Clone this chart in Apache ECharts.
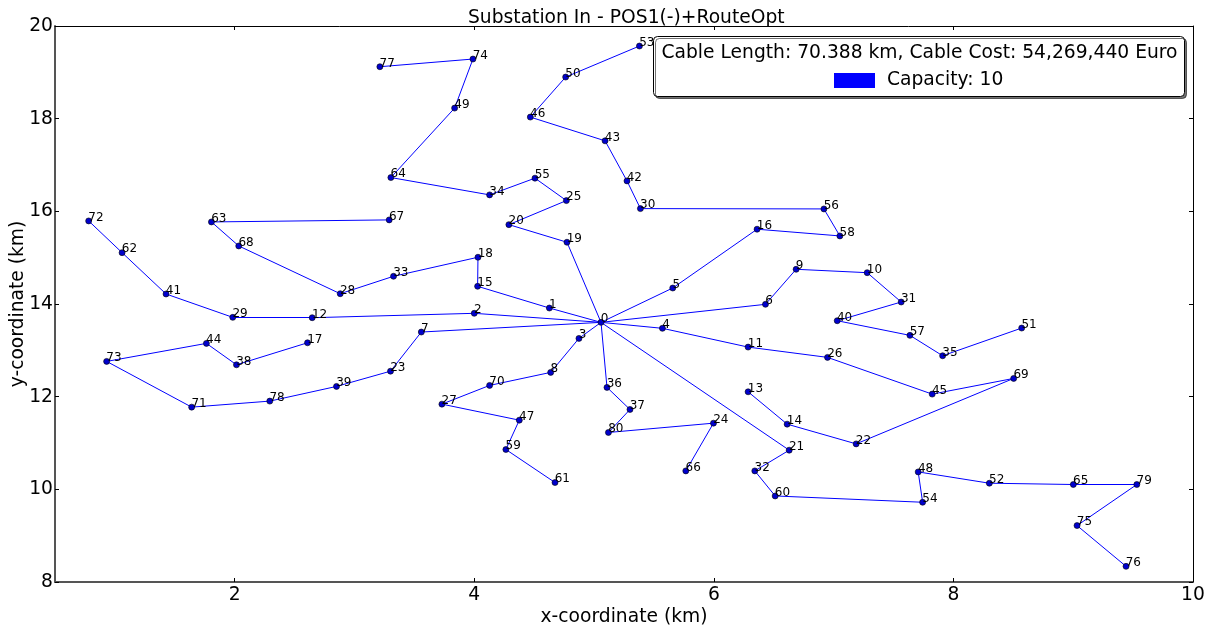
<!DOCTYPE html>
<html>
<head>
<meta charset="utf-8">
<script src="https://cdn.jsdelivr.net/npm/echarts@6/dist/echarts.min.js"></script>
<style>
  html, body { margin: 0; padding: 0; background: #fff; }
  #chart { width: 1214px; height: 625px; }
</style>
</head>
<body>
<div id="chart"></div>
<script>
// Turbine / substation positions (km), indexed by node id (0 = substation)
const nodeX = [
  5.058, 4.627, 4.000, 4.874, 5.571, 5.657, 6.431, 3.558, 4.638, 6.687,
  7.280, 6.286, 2.647, 6.286, 6.612, 4.028, 6.361, 2.608, 4.031, 4.774,
  4.289, 6.629, 7.188, 3.301, 5.997, 4.769, 6.949, 3.730, 2.881, 1.984,
  5.387, 7.564, 6.342, 3.326, 4.128, 7.910, 5.108, 5.300, 2.015, 2.850,
  7.030, 1.427, 5.275, 5.092, 1.764, 7.823, 4.468, 4.376, 7.706, 3.836,
  4.763, 8.570, 8.300, 5.379, 7.743, 4.507, 6.919, 7.637, 7.052, 4.264,
  6.512, 4.674, 1.060, 1.806, 3.304, 9.001, 5.766, 3.290, 2.034, 8.503,
  4.128, 1.641, 0.781, 0.931, 3.989, 9.032, 9.441, 3.212, 2.293, 9.531,
  5.120
];
const nodeY = [
  13.604, 13.913, 13.799, 13.258, 13.475, 14.345, 13.993, 13.395, 12.524, 14.749,
  14.676, 13.070, 13.704, 12.105, 11.407, 14.382, 15.614, 13.163, 15.009, 15.333,
  15.713, 10.845, 10.981, 12.550, 11.428, 16.232, 12.848, 11.839, 14.222, 13.712,
  16.059, 14.043, 10.398, 14.598, 16.355, 12.883, 12.200, 11.724, 12.688, 12.221,
  13.639, 14.216, 16.657, 17.522, 13.150, 12.055, 18.034, 11.493, 10.376, 18.228,
  18.898, 13.481, 10.132, 19.568, 9.721, 16.716, 16.052, 13.323, 15.469, 10.860,
  9.857, 10.147, 15.108, 15.771, 16.729, 10.104, 10.398, 15.815, 15.253, 12.394,
  12.243, 11.774, 15.793, 12.761, 19.287, 9.218, 8.338, 19.121, 11.904, 10.104,
  11.227
];
// Cable routes as [from, to] node ids
const cableEdges = [
  [77,74],[74,49],[49,64],[64,34],[34,55],[55,25],[25,20],[20,19],[19,0],
  [53,50],[50,46],[46,43],[43,42],[42,30],[30,56],[56,58],[58,16],[16,5],[5,0],
  [63,67],[63,68],[68,28],[28,33],[33,18],[18,15],[15,1],[1,0],
  [72,62],[62,41],[41,29],[29,12],[12,2],[2,0],
  [17,38],[38,44],[44,73],[73,71],[71,78],[78,39],[39,23],[23,7],[7,0],
  [9,6],[6,0],[9,10],[10,31],[31,40],[40,57],[57,35],[35,51],
  [0,4],[4,11],[11,26],[26,45],[45,69],[69,22],[22,14],[14,13],
  [0,3],[3,8],[8,70],[70,27],[27,47],[47,59],[59,61],
  [0,36],[36,37],[37,80],[80,24],[24,66],
  [0,21],[21,32],[32,60],[60,54],[54,48],[48,52],[52,65],[65,79],[79,75],[75,76]
];
const xTicks = [2, 4, 6, 8, 10];
const yTicks = [8, 10, 12, 14, 16, 18, 20];
const titleText = 'Substation In - POS1(-)+RouteOpt';
const summaryText = 'Cable Length: 70.388 km, Cable Cost: 54,269,440 Euro';
const capacityName = 'Capacity: 10';

const FONT = 'DejaVu Sans';
const BIG = 18.7;
const chart = echarts.init(document.getElementById('chart'), null, { renderer: 'canvas' });

const nodes = nodeX.map((x, i) => ({ name: String(i), value: [x, nodeY[i]] }));
const links = cableEdges.map(([a, b]) => ({ coords: [[nodeX[a], nodeY[a]], [nodeX[b], nodeY[b]]] }));

const axisBase = {
  type: 'value',
  splitLine: { show: false },
  axisLine: { onZero: false, lineStyle: { color: '#000', width: 1 } },
  axisTick: { inside: true, length: 4, lineStyle: { color: '#000' } }
};

chart.setOption({
  animation: false,
  textStyle: { fontFamily: FONT },
  title: {
    text: titleText,
    left: 468, top: 9, padding: 0,
    textStyle: { fontFamily: FONT, fontSize: BIG, fontWeight: 'normal', color: '#000' }
  },
  grid: { left: 55, right: 21, top: 26, bottom: 43, containLabel: false, outerBoundsMode: 'none' },
  xAxis: [
    Object.assign({}, axisBase, {
      position: 'bottom', min: 0.5, max: 10,
      axisLine: { onZero: false, lineStyle: { color: '#555', width: 2 } },
      axisTick: { inside: true, length: 4, customValues: xTicks, lineStyle: { color: '#000' } },
      axisLabel: { customValues: xTicks, fontFamily: FONT, fontSize: BIG, color: '#000', margin: 4 },
      name: 'x-coordinate (km)', nameLocation: 'middle', nameGap: 26, nameMoveOverlap: false,
      nameTextStyle: { fontFamily: FONT, fontSize: BIG, color: '#000' }
    }),
    Object.assign({}, axisBase, {
      position: 'top', min: 0.5, max: 10,
      axisTick: { inside: true, length: 4, customValues: xTicks, lineStyle: { color: '#000' } },
      axisLabel: { show: false }
    })
  ],
  yAxis: [
    Object.assign({}, axisBase, {
      position: 'left', min: 8, max: 20, interval: 2,
      axisLine: { onZero: false, lineStyle: { color: '#555', width: 2 } },
      axisTick: { inside: true, length: 4, customValues: yTicks, lineStyle: { color: '#000' } },
      axisLabel: { customValues: yTicks, fontFamily: FONT, fontSize: BIG, color: '#000', margin: 2 },
      name: 'y-coordinate (km)', nameLocation: 'middle', nameGap: 27, nameMoveOverlap: false,
      nameTextStyle: { fontFamily: FONT, fontSize: BIG, color: '#000' }
    }),
    Object.assign({}, axisBase, {
      position: 'right', min: 8, max: 20, interval: 2,
      axisTick: { inside: true, length: 4, customValues: yTicks, lineStyle: { color: '#000' } },
      axisLabel: { show: false }
    })
  ],
  legend: {
    data: [{ name: capacityName, icon: 'rect' }],
    left: 834, top: 71, padding: 0, z: 60,
    itemWidth: 39, itemHeight: 13,
    itemStyle: { color: '#0000ff' },
    selectedMode: false,
    textStyle: { fontFamily: FONT, fontSize: BIG, color: '#000', padding: [0, 0, 0, 8] }
  },
  graphic: [
    {
      type: 'rect', z: 50,
      shape: { x: 653.5, y: 36.5, width: 531, height: 60, r: 4 },
      style: {
        fill: '#fff', stroke: '#000', lineWidth: 1,
        shadowColor: 'rgba(0,0,0,0.55)', shadowBlur: 0, shadowOffsetX: 2, shadowOffsetY: 2
      }
    },
    {
      type: 'text', z: 55,
      x: 919.5, y: 53,
      style: {
        text: summaryText, fill: '#000',
        font: BIG + 'px "DejaVu Sans"', align: 'center', verticalAlign: 'middle'
      }
    }
  ],
  series: [
    {
      name: capacityName,
      type: 'lines',
      coordinateSystem: 'cartesian2d',
      xAxisIndex: 0, yAxisIndex: 0,
      polyline: false,
      silent: true,
      lineStyle: { color: '#0000ff', width: 1, opacity: 1 },
      data: links,
      z: 2
    },
    {
      name: 'nodes',
      type: 'scatter',
      xAxisIndex: 0, yAxisIndex: 0,
      symbol: 'circle', symbolSize: 6,
      itemStyle: { color: '#0000cc', borderColor: '#000', borderWidth: 0.6, opacity: 1 },
      label: {
        show: true,
        position: [3, 3],
        align: 'left', verticalAlign: 'bottom',
        offset: [0, 3],
        formatter: p => p.name,
        fontFamily: FONT, fontSize: 12, color: '#000'
      },
      data: nodes,
      z: 3
    }
  ]
});
</script>
</body>
</html>
